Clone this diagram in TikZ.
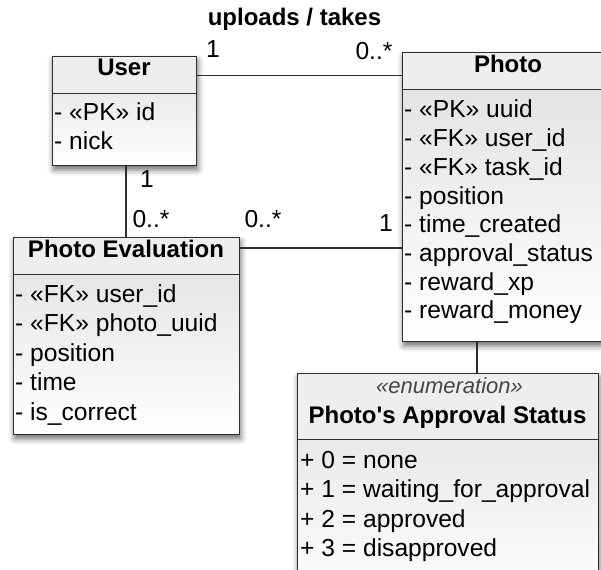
\documentclass[tikz,border=0pt]{standalone}
\usepackage{fontspec}
\setmainfont{Liberation Sans}
\usetikzlibrary{shadows.blur}

\definecolor{edge}{HTML}{2E2E2E}
\definecolor{headfill}{HTML}{EEEEEE}
\definecolor{bodytop}{HTML}{E0E0E0}
\definecolor{stereo}{HTML}{444444}

\tikzset{
  classbox/.style={rectangle, draw=edge, line width=1.3pt, inner sep=0pt,
    anchor=north west, top color=bodytop, bottom color=white,
    blur shadow={shadow xshift=1pt, shadow yshift=-4pt,
                 shadow blur radius=6pt, shadow opacity=60}},
  headbox/.style={rectangle, draw=edge, line width=1.3pt, inner sep=0pt,
    anchor=north west, fill=headfill},
  title/.style={anchor=base, inner sep=0pt, font=\bfseries\fontsize{24}{28}\selectfont},
  stereotype/.style={anchor=base, inner sep=0pt, text=stereo,
    font=\itshape\fontsize{22}{26}\selectfont},
  attr/.style={anchor=base west, inner sep=0pt, font=\fontsize{24.6}{28}\selectfont},
  mult/.style={anchor=base, inner sep=0pt, font=\fontsize{24.6}{28}\selectfont},
  assoc/.style={draw=edge, line width=1.2pt},
}

\begin{document}
\begin{tikzpicture}[x=1pt,y=-1pt]
\path[use as bounding box] (0,0) rectangle (601,569);
\clip (0,0) rectangle (601,569);

% ---------- class frames ----------
\node[classbox, minimum width=144pt, minimum height=109pt] (user) at (52,56) {};
\node[headbox,  minimum width=144pt, minimum height=37pt]  (userH) at (52,56) {};

\node[classbox, minimum width=212pt, minimum height=289pt] (photo) at (402,52) {};
\node[headbox,  minimum width=212pt, minimum height=37pt]  (photoH) at (402,52) {};

\node[classbox, minimum width=226pt, minimum height=197pt] (peval) at (13,237) {};
\node[headbox,  minimum width=226pt, minimum height=37pt]  (pevalH) at (13,237) {};

\node[classbox, minimum width=301pt, minimum height=227pt] (enum) at (297,373) {};
\node[headbox,  minimum width=301pt, minimum height=66pt]  (enumH) at (297,373) {};

% ---------- associations ----------
\coordinate (userX) at (126,0);
\coordinate (evalY) at (0,248);
\coordinate (enumX) at (477,0);

\draw[assoc] (userH.east) -- (userH.east -| photo.west);
\draw[assoc] (user.south -| userX) -- (peval.north -| userX);
\draw[assoc] (peval.east |- evalY) -- (photo.west |- evalY);
\draw[assoc] (photo.south -| enumX) -- (enum.north -| enumX);

% association name and multiplicities
\node[title] (assocName) at (294.5,26) {uploads / takes};
\node[mult] (mUserPhoto) at (213,58) {1};
\node[mult] (mPhotoUser) at (374,60) {0..*};
\node[mult] (mUserEval)  at (147,188) {1};
\node[mult] (mEvalUser)  at (151,227) {0..*};
\node[mult] (mEvalPhoto) at (263,227) {0..*};
\node[mult] (mPhotoEval) at (386,231) {1};

% ---------- User ----------
\node[title] (userT) at (124,76) {User};
\node[attr] (u1) at (54,121) {- «PK» id};
\node[attr] (u2) at (54,150) {- nick};

% ---------- Photo ----------
\node[title] (photoT) at (508,73) {Photo};
\node[attr] (p1) at (404,118)   {- «PK» uuid};
\node[attr] (p2) at (404,146.7) {- «FK» user\_id};
\node[attr] (p3) at (404,175.4) {- «FK» task\_id};
\node[attr] (p4) at (404,204.1) {- position};
\node[attr] (p5) at (404,232.8) {- time\_created};
\node[attr] (p6) at (404,261.5) {- approval\_status};
\node[attr] (p7) at (404,290.2) {- reward\_xp};
\node[attr] (p8) at (404,318.9) {- reward\_money};

% ---------- Photo Evaluation ----------
\node[title] (pevalT) at (126,257) {Photo Evaluation};
\node[attr] (e1) at (15,302)   {- «FK» user\_id};
\node[attr] (e2) at (15,331.5) {- «FK» photo\_uuid};
\node[attr] (e3) at (15,361)   {- position};
\node[attr] (e4) at (15,390.5) {- time};
\node[attr] (e5) at (15,420)   {- is\_correct};

% ---------- enumeration ----------
\node[stereotype] (enumS) at (449.5,393) {«enumeration»};
\node[title] (enumT) at (447.5,423) {Photo\textquotesingle s Approval Status};
\node[attr] (n0) at (300,468)   {+ 0 = none};
\node[attr] (n1) at (300,497.5) {+ 1 = waiting\_for\_approval};
\node[attr] (n2) at (300,527)   {+ 2 = approved};
\node[attr] (n3) at (300,556.5) {+ 3 = disapproved};
\end{tikzpicture}
\end{document}
